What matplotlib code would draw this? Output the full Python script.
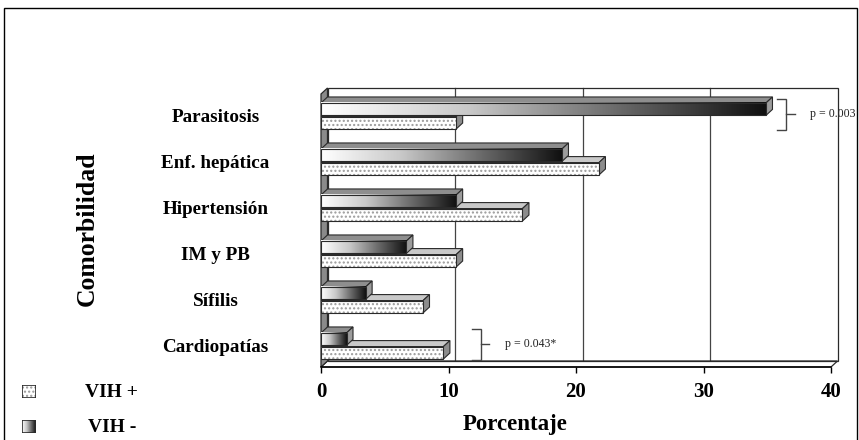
import numpy as np
import matplotlib
matplotlib.use("Agg")
import matplotlib.pyplot as plt
from matplotlib.patches import Polygon, Rectangle
from matplotlib.colors import LinearSegmentedColormap

# ---- data -------------------------------------------------------------
categories = ["Parasitosis", "Enf. hepática", "Hipertensión", "IM y PB", "Sífilis", "Cardiopatías"]
vih_neg = [34.9, 18.9, 10.6, 6.7, 3.5, 2.0]
vih_pos = [10.6, 21.8, 15.8, 10.6, 8.0, 9.6]
x_ticks = [0, 10, 20, 30, 40]
series_labels = ["VIH +", "VIH -"]
p_texts = ["p = 0.003", "p = 0.043*"]
p_rows = [0, 5]                    # rows the p-values refer to
p_bracket_x = [35.8, 11.85]        # left end of each bracket

W, H = 859, 440
SERIF = ["Liberation Serif", "DejaVu Serif"]
plt.rcParams["font.family"] = SERIF

fig = plt.figure(figsize=(W / 100, H / 100), dpi=100)

# front plane of the 3-D box, pixel geometry
left_px, right_px, top_px, bot_px = 321, 831, 94, 367
ax_w, ax_h = right_px - left_px, bot_px - top_px
ax = fig.add_axes([left_px / W, 1 - bot_px / H, ax_w / W, ax_h / H])

n = len(categories)
ypos = np.arange(n)[::-1].astype(float)
XMAX = 40
ylo, yhi = -0.457, n - 1 + 0.478
ax.set_xlim(0, XMAX)
ax.set_ylim(ylo, yhi)
ax.patch.set_visible(False)
for name, sp in ax.spines.items():
    sp.set_visible(name == "bottom")
ax.spines["bottom"].set_linewidth(1.1)
ax.spines["bottom"].set_zorder(1.6)

# depth of the box (pixels) and the same depth in axes / data units
DX, DY = 6.5, 6.0
dxa, dya = DX / ax_w, DY / ax_h
ux = DX / (ax_w / XMAX)
uy = DY / (ax_h / (yhi - ylo))

EDGE = "#2a2a2a"

# back wall
ax.add_patch(Rectangle((dxa, dya), 1, 1, transform=ax.transAxes, fc="white",
                       ec="none", zorder=0, clip_on=False))
ax.add_patch(Rectangle((dxa, dya), 1, 1, transform=ax.transAxes, fill=False,
                       ec=EDGE, lw=0.9, zorder=1.5, clip_on=False))
# gridlines on the back wall
for xv in x_ticks[1:-1]:
    ax.plot([xv + ux, xv + ux], [ylo + uy, yhi + uy], color="#444444", lw=0.9,
            zorder=0.6, clip_on=False)
# floor
ax.add_patch(Polygon([(0, 0), (1, 0), (1 + dxa, dya), (dxa, dya)], closed=True,
                     transform=ax.transAxes, fc="white", ec=EDGE, lw=0.9,
                     zorder=1.4, clip_on=False))
# left side wall
ax.add_patch(Polygon([(0, 0), (0, 1), (dxa, 1 + dya), (dxa, dya)], closed=True,
                     transform=ax.transAxes, fc="#8a8a8a", ec=EDGE, lw=0.9,
                     zorder=1.45, clip_on=False))

grad_cmap = LinearSegmentedColormap.from_list("wb", ["#ffffff", "#c8c8c8", "#6a6a6a", "#101010"])
gradient = np.linspace(0, 1, 256)[None, :]

BAR_H = 0.27
OFF = 0.148


def faces(v, y0, y1, top_fc, side_fc, z):
    ax.add_patch(Polygon([(0, y1), (v, y1), (v + ux, y1 + uy), (ux, y1 + uy)],
                         closed=True, fc=top_fc, ec=EDGE, lw=0.8, zorder=z))
    ax.add_patch(Polygon([(v, y0), (v, y1), (v + ux, y1 + uy), (v + ux, y0 + uy)],
                         closed=True, fc=side_fc, ec=EDGE, lw=0.8, zorder=z))


# VIH + : dotted bars (lower bar of each pair)
for v, y in zip(vih_pos, ypos):
    yc = y - OFF
    y0, y1 = yc - BAR_H / 2, yc + BAR_H / 2
    faces(v, y0, y1, "#c9c9c9", "#8c8c8c", 3.0)
    ax.barh(yc, v, height=BAR_H, color="white", edgecolor="#9a9a9a", hatch="....",
            linewidth=0, zorder=3.1)
    ax.barh(yc, v, height=BAR_H, fill=False, edgecolor=EDGE, linewidth=0.8, zorder=3.2)

# VIH - : white-to-black gradient bars (upper bar of each pair)
for v, y in zip(vih_neg, ypos):
    yc = y + OFF
    y0, y1 = yc - BAR_H / 2, yc + BAR_H / 2
    faces(v, y0, y1, "#8e8e8e", "#9c9c9c", 4.0)
    ax.imshow(gradient, extent=[0, v, y0, y1], aspect="auto", cmap=grad_cmap,
              interpolation="bilinear", zorder=4.1)
    ax.barh(yc, v, height=BAR_H, fill=False, edgecolor=EDGE, linewidth=0.8, zorder=4.2)

ax.set_xlim(0, XMAX)
ax.set_ylim(ylo, yhi)

# significance brackets
for txt, row, bx in zip(p_texts, p_rows, p_bracket_x):
    yc = ypos[row]
    top, bot = yc + 0.37, yc - 0.30
    mid = (top + bot) / 2
    ax.plot([bx, bx + 0.7, bx + 0.7, bx], [top, top, bot, bot], color="#444444",
            lw=1.0, zorder=5, clip_on=False, solid_joinstyle="miter")
    ax.plot([bx + 0.7, bx + 1.35], [mid, mid], color="#444444", lw=1.0, zorder=5,
            clip_on=False)
    ax.text(bx + 2.55, mid, txt, fontsize=8.6, va="center", ha="left",
            color="#222222", zorder=1.0, clip_on=False)

# axes ticks and labels
ax.set_xticks(x_ticks)
ax.set_xticklabels([str(t) for t in x_ticks], fontsize=15, fontweight="bold")
ax.tick_params(axis="x", direction="out", length=4, width=1, pad=7, colors="black")
ax.set_yticks(ypos)
ax.set_yticklabels(categories, fontsize=13.8, fontweight="bold", ha="center")
ax.tick_params(axis="y", length=0, pad=76)

fig.text(87 / W, 1 - 229 / H, "Comorbilidad", rotation=90, fontsize=18.5,
         fontweight="bold", ha="center", va="center")
fig.text(515 / W, 1 - 424 / H, "Porcentaje", fontsize=16.5, fontweight="bold",
         ha="center", va="center")

# legend swatches
sw1 = fig.add_axes([22 / W, 1 - 398 / H, 14 / W, 13 / H])
sw1.add_patch(Rectangle((0, 0), 1, 1, fc="white", ec="#9a9a9a", hatch="....", lw=0))
sw1.add_patch(Rectangle((0, 0), 1, 1, fill=False, ec=EDGE, lw=1.2))
sw1.set_xlim(0, 1); sw1.set_ylim(0, 1); sw1.axis("off")
sw2 = fig.add_axes([22 / W, 1 - 433 / H, 14 / W, 13 / H])
sw2.imshow(gradient, extent=[0, 1, 0, 1], aspect="auto", cmap=grad_cmap)
sw2.add_patch(Rectangle((0, 0), 1, 1, fill=False, ec=EDGE, lw=1.2))
sw2.set_xlim(0, 1); sw2.set_ylim(0, 1); sw2.axis("off")
fig.text(85 / W, 1 - 392 / H, series_labels[0], fontsize=14, fontweight="bold",
         ha="left", va="center")
fig.text(88 / W, 1 - 427 / H, series_labels[1], fontsize=14, fontweight="bold",
         ha="left", va="center")

# outer frame
fig.add_artist(Rectangle((4 / W, -0.05), (857 - 4) / W, 1 - 8 / H + 0.05, fill=False,
                         ec="black", lw=1.0, transform=fig.transFigure))

fig.savefig("out.png", dpi=100)
